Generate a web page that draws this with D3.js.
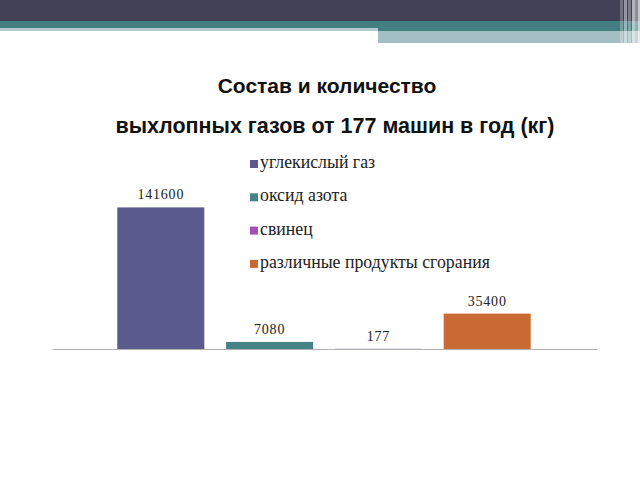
<!DOCTYPE html>
<html><head><meta charset="utf-8">
<script src="https://cdn.jsdelivr.net/npm/d3@7"></script>
<style>html,body{margin:0;padding:0;background:#fff;overflow:hidden}</style>
</head><body>
<svg id="c" width="640" height="480"></svg>
<script>
const seriesNames = ["углекислый газ","оксид азота","свинец","различные продукты сгорания"];
const values = [141600, 7080, 177, 35400];
const labels = ["141600","7080","177","35400"];
const colors = ["#5A5A8D","#468386","#A34FB4","#C96A35"];
const titleLines = ["Состав и количество","выхлопных газов от 177 машин в год (кг)"];

const svg = d3.select("#c");
// header decoration
svg.append("rect").attr("x",0).attr("y",0).attr("width",640).attr("height",21).attr("fill","#424257");
svg.append("rect").attr("x",0).attr("y",21).attr("width",640).attr("height",7).attr("fill","#437E81");
svg.append("rect").attr("x",0).attr("y",28).attr("width",378).attr("height",3).attr("fill","#B3CBCE");
svg.append("rect").attr("x",378).attr("y",28).attr("width",262).attr("height",3).attr("fill","#437E81");
svg.append("rect").attr("x",378).attr("y",31).attr("width",262).attr("height",12).attr("fill","#A4BFC3");
// right edge fading stripes
[[620,0.25],[624,0.45],[628,0.3],[632,0.6],[635,0.4],[638,0.7]].forEach(([x,o])=>{
  svg.append("rect").attr("x",x).attr("y",0).attr("width",3).attr("height",44).attr("fill","#fff").attr("opacity",o);
});

// title
const tf = "Liberation Sans, Arial, sans-serif";
svg.append("text").attr("x",327).attr("y",93).attr("text-anchor","middle")
  .attr("font-family",tf).attr("font-weight","bold").attr("font-size",21)
  .attr("fill","#111").text(titleLines[0]);
svg.append("text").attr("x",335).attr("y",133).attr("text-anchor","middle")
  .attr("font-family",tf).attr("font-weight","bold").attr("font-size",21.5)
  .attr("fill","#111").text(titleLines[1]);

// scales
const x = d3.scaleBand().domain(seriesNames).range([52,596]).paddingInner(0.2).paddingOuter(0.6);
const y = d3.scaleLinear().domain([0,160000]).range([349,189]);

svg.selectAll("rect.bar").data(values).enter().append("rect").attr("class","bar")
  .attr("x",(d,i)=>x(seriesNames[i])).attr("width",x.bandwidth())
  .attr("y",d=>y(d)).attr("height",d=>y(0)-y(d)).attr("fill",(d,i)=>colors[i]);

// axis line
const axis = d3.axisBottom(x).tickSize(0).tickFormat("");
const gA = svg.append("g").attr("transform","translate(0,349)").call(axis);
gA.select(".domain").attr("stroke","#B0B0B0").attr("d","M52.5,0.5H597.5");

// data labels
svg.selectAll("text.lbl").data(values).enter().append("text").attr("class","lbl")
  .attr("x",(d,i)=>x(seriesNames[i])+x.bandwidth()/2).attr("y",d=>y(d)-8)
  .attr("text-anchor","middle").attr("font-family","Liberation Serif, Times New Roman, serif")
  .attr("font-size",14).attr("letter-spacing",0.8).attr("fill","#222").text((d,i)=>labels[i]);

// legend
const lg = svg.append("g");
seriesNames.forEach((n,i)=>{
  const yy = 160 + i*33.3;
  lg.append("rect").attr("x",250).attr("y",yy).attr("width",8).attr("height",8).attr("fill",colors[i]);
  lg.append("text").attr("x",260).attr("y",yy+8).attr("font-family","Liberation Serif, Times New Roman, serif")
    .attr("font-size",17.8).attr("fill","#222").text(n);
});
</script>
</body></html>
